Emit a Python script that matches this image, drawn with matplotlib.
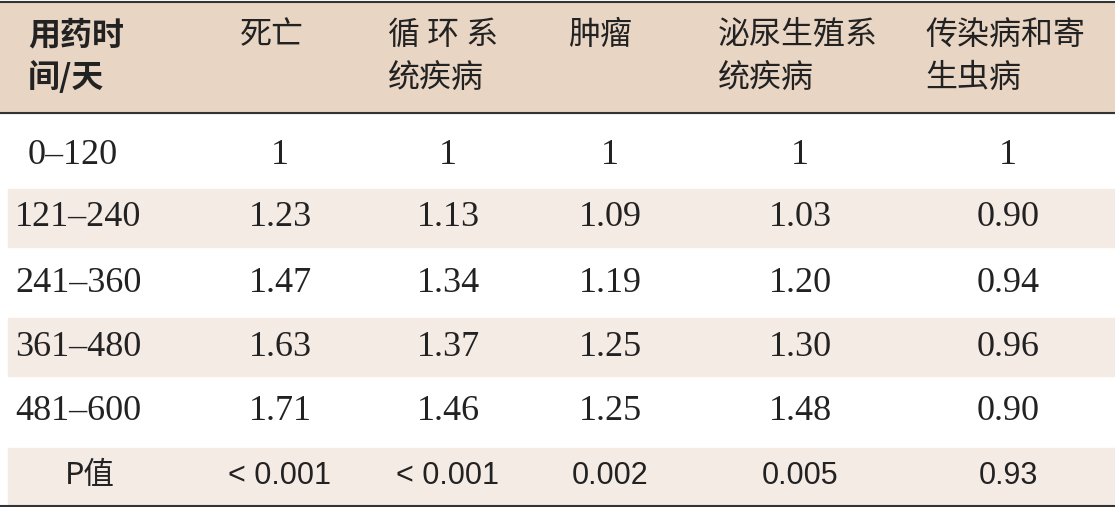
import matplotlib.pyplot as plt
from matplotlib.patches import Rectangle

plt.rcParams['font.family'] = ['Noto Sans CJK SC', 'DejaVu Sans']

# ---- 表格数据 ----
headers = [['用药时', '间/天'], ['死亡'], ['循 环 系', '统疾病'], ['肿瘤'],
           ['泌尿生殖系', '统疾病'], ['传染病和寄', '生虫病']]
row_labels = ['0–120', '121–240', '241–360', '361–480', '481–600']
death = ['1', '1.23', '1.47', '1.63', '1.71']
circ = ['1', '1.13', '1.34', '1.37', '1.46']
tumor = ['1', '1.09', '1.19', '1.25', '1.25']
urin = ['1', '1.03', '1.20', '1.30', '1.48']
infect = ['1', '0.90', '0.94', '0.96', '0.90']
p_values = ['<0.001', '<0.001', '0.002', '0.005', '0.93']

W, H = 1115, 507
fig = plt.figure(figsize=(W / 100, H / 100), dpi=100)
ax = fig.add_axes([0, 0, 1, 1])
ax.set_xlim(0, W)
ax.set_ylim(H, 0)
ax.axis('off')

head_bg = '#e8d5c3'
stripe = '#f5ebe5'

# 表头背景和线
ax.add_patch(Rectangle((0, 2), W, 111, color=head_bg, zorder=0))
ax.plot([0, W], [2, 2], color='#333333', lw=1.5)
ax.plot([0, W], [113, 113], color='#333333', lw=1.5)
ax.plot([0, W], [506, 506], color='#333333', lw=1.5)

head_x = [28, 240, 388, 568, 718, 925]
for x, lines in zip(head_x, headers):
    for i, t in enumerate(lines):
        ax.text(x, 35 + i * 43, t, fontsize=23, va='center', ha='left',
                color='#222222', fontweight='bold' if x == 28 else 'normal')

col_x = [280, 448, 610, 800, 1008]
row_y = [155, 218, 283, 347, 411]
cols = [death, circ, tumor, urin, infect]
for r, y in enumerate(row_y):
    if r % 2 == 1:
        ax.add_patch(Rectangle((8, y - 29), W - 8, 58, color=stripe, zorder=0))
    if r == 0:
        ax.text(73, y, row_labels[r], fontsize=26, family='Liberation Serif',
                ha='center', va='center', color='#222222')
    else:
        ax.text(15, y, row_labels[r], fontsize=26, family='Liberation Serif',
                ha='left', va='center', color='#222222')
    for x, c in zip(col_x, cols):
        ax.text(x, y, c[r], fontsize=26, family='Liberation Serif',
                ha='center', va='center', color='#222222')

# P值行
py = 476
ax.add_patch(Rectangle((8, py - 28), W - 8, 57, color=stripe, zorder=0))
ax.text(90, py, 'P值', fontsize=22, ha='center', va='center', color='#222222')
for x, p in zip(col_x, p_values):
    ax.text(x, py, p.replace('<', '< ') if p.startswith('<') else p,
            fontsize=22, family=['Liberation Sans', 'DejaVu Sans'],
            ha='center', va='center', color='#222222')

fig.savefig('out.png', dpi=100)
